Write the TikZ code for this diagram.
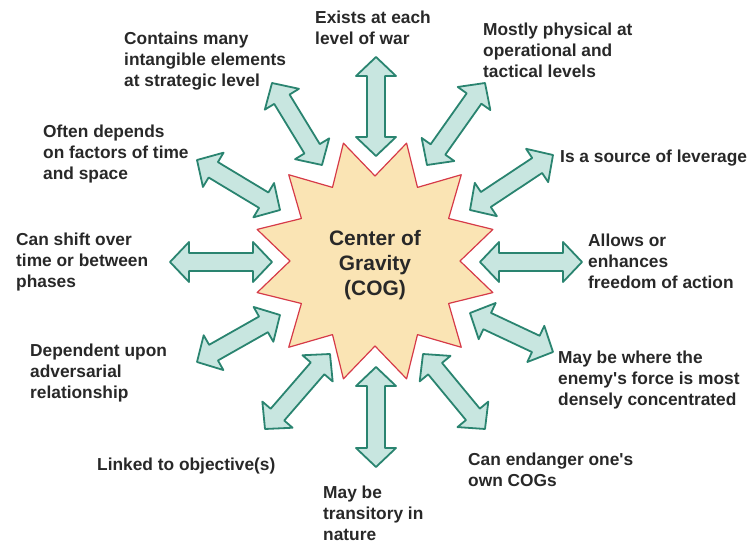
\documentclass[tikz,border=0pt]{standalone}
\usepackage{fontspec}
\setmainfont{Liberation Sans}
\usetikzlibrary{calc}
\definecolor{arrowteal}{RGB}{42,132,112}
\definecolor{arrowmint}{RGB}{200,230,224}
\definecolor{stargold}{RGB}{250,228,180}
\definecolor{starred}{RGB}{214,58,72}
\definecolor{textgray}{RGB}{40,40,40}

\newcommand{\headlen}{19bp}
\newcommand{\headwid}{20bp}
\newcommand{\shaftwid}{9bp}
\newcommand{\cogarrow}[2]{%
  \draw[arrowbody] (#1)
    -- ($(#1)!\headlen!(#2)!\headwid!90:(#2)$)
    -- ($(#1)!\headlen!(#2)!\shaftwid!90:(#2)$)
    -- ($(#2)!\headlen!(#1)!\shaftwid!-90:(#1)$)
    -- ($(#2)!\headlen!(#1)!\headwid!-90:(#1)$)
    -- (#2)
    -- ($(#2)!\headlen!(#1)!\headwid!90:(#1)$)
    -- ($(#2)!\headlen!(#1)!\shaftwid!90:(#1)$)
    -- ($(#1)!\headlen!(#2)!\shaftwid!-90:(#2)$)
    -- ($(#1)!\headlen!(#2)!\headwid!-90:(#2)$)
    -- cycle;}

\begin{document}
\begin{tikzpicture}[x=1bp, y=-1bp, line join=round,
  arrowbody/.style={draw=arrowteal, fill=arrowmint, line width=1.8bp},
  cogstar/.style={draw=starred, fill=stargold, line width=1.2bp},
  fact/.style={anchor=north west, align=left, inner sep=0pt, text=textgray,
    font=\bfseries\fontsize{17.4}{21}\selectfont},
  cogtext/.style={align=center, inner sep=0pt, text=textgray,
    font=\bfseries\fontsize{21}{25}\selectfont}]
\useasboundingbox (0,0) rectangle (750,544);

% ---------- Star ----------
\begin{scope}[shift={(375,261)}]
  \draw[cogstar] (15:122)
    \foreach \k in {1,...,12} { -- (\k*30:85) -- (\k*30+15:122) } -- cycle;
\end{scope}
\node[cogtext] (cog) at (375,265) {Center of\\Gravity\\(COG)};

% ---------- Facts ----------
\node[fact] (intangible) at (124,32) {Contains many\\intangible elements\\at strategic level};
\node[fact] (exists) at (315,11) {Exists at each\\level of war};
\node[fact] (physical) at (483,23) {Mostly physical at\\operational and\\tactical levels};
\node[fact] (leverage) at (560,150) {Is a source of leverage};
\node[fact] (freedom) at (588,234) {Allows or\\enhances\\freedom of action};
\node[fact] (enemy) at (558,351) {May be where the\\enemy\textquotesingle s force is most\\densely concentrated};
\node[fact] (endanger) at (468,453) {Can endanger one\textquotesingle s\\own COGs};
\node[fact] (transitory) at (323,486) {May be\\transitory in\\nature};
\node[fact] (objective) at (97,458) {Linked to objective(s)};
\node[fact] (adversary) at (30,344) {Dependent upon\\adversarial\\relationship};
\node[fact] (shift) at (16,233) {Can shift over\\time or between\\phases};
\node[fact] (timespace) at (43,125) {Often depends\\on factors of time\\and space};

% ---------- Arrows ----------
\coordinate (exists-out) at (376,57);     \coordinate (exists-in) at (376,156);
\coordinate (physical-out) at (485,83);   \coordinate (physical-in) at (427,165);
\coordinate (leverage-out) at (553,155);  \coordinate (leverage-in) at (470,210);
\coordinate (freedom-out) at (582,262);   \coordinate (freedom-in) at (480,262);
\coordinate (enemy-out) at (553,352);     \coordinate (enemy-in) at (470,313);
\coordinate (endanger-out) at (485,429);  \coordinate (endanger-in) at (423,354);
\coordinate (transitory-out) at (376,467);\coordinate (transitory-in) at (376,367);
\coordinate (objective-out) at (265,429); \coordinate (objective-in) at (330,354);
\coordinate (adversary-out) at (197,362); \coordinate (adversary-in) at (280,315);
\coordinate (shift-out) at (170,262);     \coordinate (shift-in) at (272,262);
\coordinate (timespace-out) at (197,160); \coordinate (timespace-in) at (280,210);
\coordinate (intangible-out) at (272,83); \coordinate (intangible-in) at (322,165);

\foreach \n in {exists,physical,leverage,freedom,enemy,endanger,
                transitory,objective,adversary,shift,timespace,intangible}
  \cogarrow{\n-in}{\n-out};

\end{tikzpicture}
\end{document}
